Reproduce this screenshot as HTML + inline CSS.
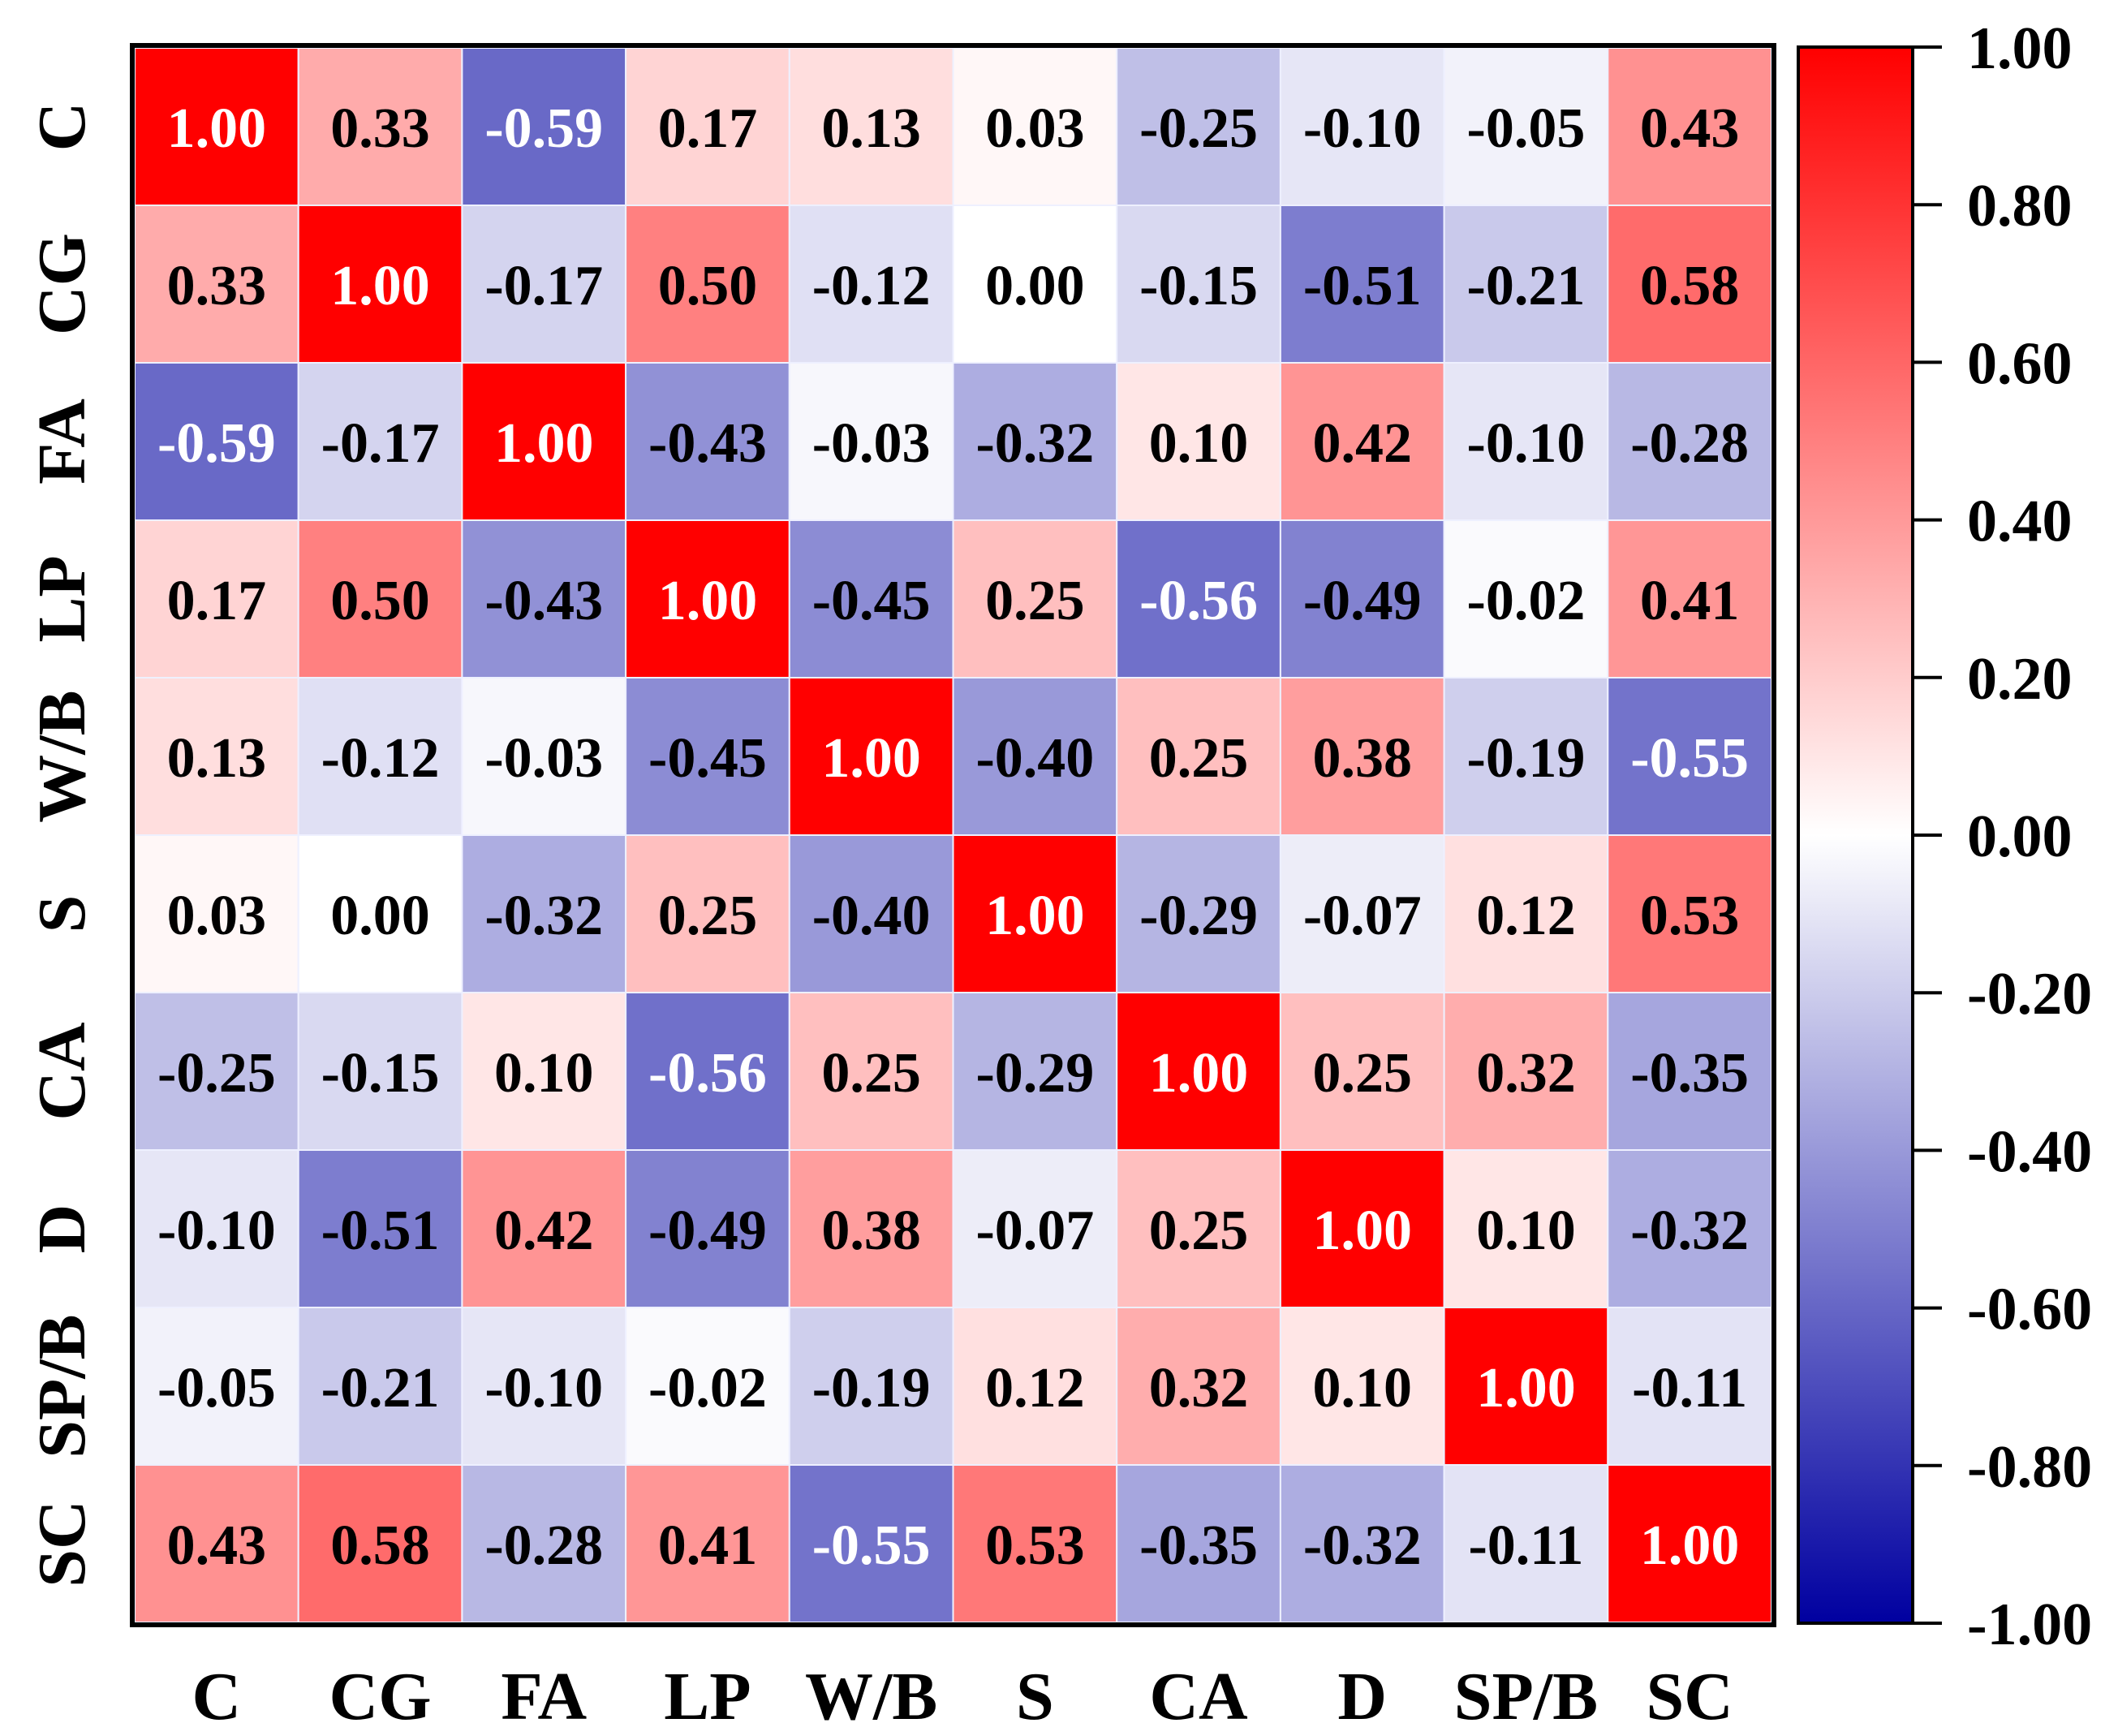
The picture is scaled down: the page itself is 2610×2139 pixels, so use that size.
<!DOCTYPE html>
<html><head><meta charset="utf-8"><style>
html,body{margin:0;padding:0;background:#fff;}
svg{display:block;font-family:"Liberation Serif",serif;font-weight:bold;}
</style></head><body>
<svg id="chart" width="2610" height="2139" viewBox="0 0 2610 2139" xmlns="http://www.w3.org/2000/svg">
<defs>
<linearGradient id="cbgrad" x1="0" y1="0" x2="0" y2="1">
<stop offset="0" stop-color="#ff0000"/>
<stop offset="0.5" stop-color="#ffffff"/>
<stop offset="1" stop-color="#0000a0"/>
</linearGradient>
</defs>
<g id="cells"></g>
<rect x="163" y="56" width="2023" height="1946" fill="none" stroke="#000" stroke-width="6"/>
<g id="xlabels"></g>
<g id="ylabels"></g>
<rect x="2216" y="58" width="141" height="1942" fill="url(#cbgrad)" stroke="#000" stroke-width="4"/>
<g id="cbticks"></g>
</svg>
<script>
const categories = ["C","CG","FA","LP","W/B","S","CA","D","SP/B","SC"];
const row0 = [1.00,0.33,-0.59,0.17,0.13,0.03,-0.25,-0.10,-0.05,0.43];
const row1 = [0.33,1.00,-0.17,0.50,-0.12,0.00,-0.15,-0.51,-0.21,0.58];
const row2 = [-0.59,-0.17,1.00,-0.43,-0.03,-0.32,0.10,0.42,-0.10,-0.28];
const row3 = [0.17,0.50,-0.43,1.00,-0.45,0.25,-0.56,-0.49,-0.02,0.41];
const row4 = [0.13,-0.12,-0.03,-0.45,1.00,-0.40,0.25,0.38,-0.19,-0.55];
const row5 = [0.03,0.00,-0.32,0.25,-0.40,1.00,-0.29,-0.07,0.12,0.53];
const row6 = [-0.25,-0.15,0.10,-0.56,0.25,-0.29,1.00,0.25,0.32,-0.35];
const row7 = [-0.10,-0.51,0.42,-0.49,0.38,-0.07,0.25,1.00,0.10,-0.32];
const row8 = [-0.05,-0.21,-0.10,-0.02,-0.19,0.12,0.32,0.10,1.00,-0.11];
const row9 = [0.43,0.58,-0.28,0.41,-0.55,0.53,-0.35,-0.32,-0.11,1.00];
const matrix = [row0,row1,row2,row3,row4,row5,row6,row7,row8,row9];
const cbTicks = [1.00,0.80,0.60,0.40,0.20,0.00,-0.20,-0.40,-0.60,-0.80,-1.00];

const NS = "http://www.w3.org/2000/svg";
const X0 = 166, X1 = 2183, Y0 = 59, Y1 = 1999;
const n = categories.length;
const cw = (X1 - X0) / n, ch = (Y1 - Y0) / n;
const xPos = i => X0 + i * cw;
const yPos = j => Y0 + j * ch;
const CB_TOP = 58, CB_BOT = 2000;
const cbY = v => CB_TOP + (1 - v) / 2 * (CB_BOT - CB_TOP);

function color(v) {
  let r, g, b;
  if (v >= 0) { r = 255; g = Math.round(255 * (1 - v)); b = g; }
  else { const t = -v; r = Math.round(255 * (1 - t)); g = r; b = Math.round(255 + (160 - 255) * t); }
  return `rgb(${r},${g},${b})`;
}
function mk(tag, attrs) {
  const el = document.createElementNS(NS, tag);
  for (const k in attrs) el.setAttribute(k, attrs[k]);
  return el;
}
const cells = document.getElementById('cells');
matrix.forEach((row, j) => {
  row.forEach((v, i) => {
    const r = mk('rect', {x: xPos(i), y: yPos(j), width: cw, height: ch, fill: color(v), stroke: '#eef0ff', 'stroke-width': 2});
    
    
    cells.appendChild(r);
    const t = mk('text', {x: xPos(i) + cw / 2, y: yPos(j) + ch / 2 + 25, 'text-anchor': 'middle', 'font-size': 70,
      fill: (v >= 0.9 || v <= -0.54) ? '#fff' : '#000'});
    t.textContent = v.toFixed(2);
    
    
    cells.appendChild(t);
  });
});
const xl = document.getElementById('xlabels');
categories.forEach((c, i) => {
  const t = mk('text', {x: xPos(i) + cw / 2, y: 2118, 'text-anchor': 'middle', 'font-size': 84, fill: '#000'});
  t.textContent = c;
  
  
  xl.appendChild(t);
});
const yl = document.getElementById('ylabels');
categories.forEach((c, j) => {
  const cy = yPos(j) + ch / 2;
  const t = mk('text', {x: 0, y: 0, transform: `translate(104,${cy}) rotate(-90)`, 'text-anchor': 'middle', 'font-size': 84, fill: '#000'});
  t.textContent = c;
  
  
  yl.appendChild(t);
});
const cbt = document.getElementById('cbticks');
cbTicks.forEach(v => {
  const y = cbY(v);
  const l = mk('line', {x1: 2357, x2: 2393, y1: y, y2: y, stroke: '#000', 'stroke-width': 4});
  
  
  cbt.appendChild(l);
  const t = mk('text', {x: 2424, y: y + 26, 'font-size': 74, fill: '#000'});
  t.textContent = v.toFixed(2);
  
  
  cbt.appendChild(t);
});
</script>
</body></html>
